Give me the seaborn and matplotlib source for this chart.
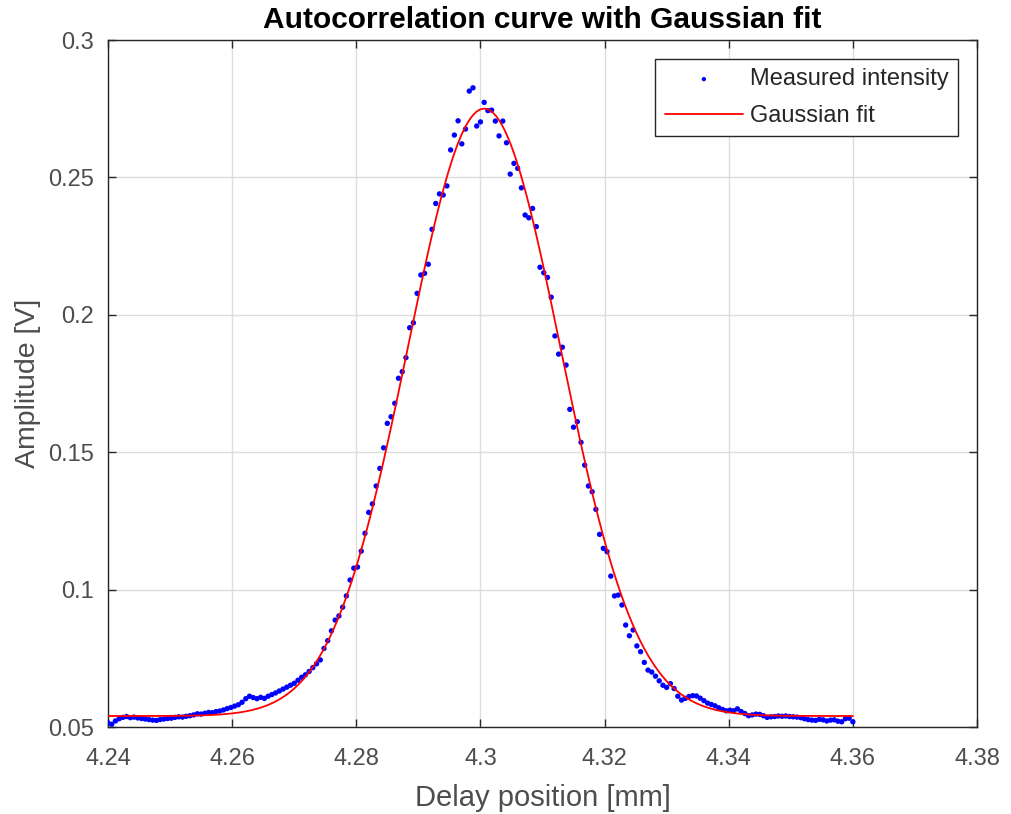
import numpy as np
import pandas as pd
import matplotlib
matplotlib.use("Agg")
import matplotlib.pyplot as plt
import seaborn as sns

# ---- data ----
delay_start = 4.24
delay_stop = 4.36
measured_amplitude = [
    0.0515, 0.0510, 0.0522, 0.0530, 0.0535, 0.0538, 0.0534, 0.0536, 0.0533, 0.0531,
    0.0529, 0.0527, 0.0525, 0.0524, 0.0527, 0.0529, 0.0531, 0.0532, 0.0535, 0.0537,
    0.0536, 0.0539, 0.0541, 0.0544, 0.0548, 0.0547, 0.0550, 0.0553, 0.0552, 0.0556,
    0.0558, 0.0562, 0.0567, 0.0571, 0.0576, 0.0581, 0.0590, 0.0603, 0.0612, 0.0607,
    0.0603, 0.0608, 0.0604, 0.0612, 0.0618, 0.0624, 0.0631, 0.0638, 0.0645, 0.0652,
    0.0659, 0.0670, 0.0681, 0.0690, 0.0702, 0.0716, 0.0730,
    0.0744, 0.0786, 0.0814, 0.0850, 0.0889, 0.0904, 0.0936, 0.0977, 0.1035, 0.1078,
    0.1082, 0.1140, 0.1205, 0.1281, 0.1312, 0.1377, 0.1441, 0.1516, 0.1605, 0.1629,
    0.1678,
    0.1769, 0.1793, 0.1844, 0.1953, 0.1971, 0.2078, 0.2145, 0.2151, 0.2184, 0.2311,
    0.2405, 0.2440, 0.2436, 0.2469, 0.2600, 0.2654, 0.2706, 0.2622, 0.2676, 0.2814,
    0.2826, 0.2687, 0.2702, 0.2773, 0.2743, 0.2745, 0.2705, 0.2651, 0.2705, 0.2626,
    0.2512, 0.2551, 0.2533, 0.2462, 0.2363, 0.2353, 0.2387, 0.2321, 0.2173, 0.2153,
    0.2136, 0.2064, 0.1923, 0.1857, 0.1882, 0.1817,
    0.1656, 0.1591, 0.1611, 0.1536, 0.1453, 0.1377, 0.1356, 0.1292, 0.1201, 0.1150,
    0.1138, 0.1049, 0.0977, 0.0980, 0.0944, 0.0871, 0.0832, 0.0853, 0.0795, 0.0774,
    0.0735, 0.0707,
    0.0700, 0.0685, 0.0668, 0.0652, 0.0644, 0.0658, 0.0640, 0.0612, 0.0598, 0.0604,
    0.0611, 0.0614, 0.0613, 0.0605, 0.0596, 0.0587, 0.0582, 0.0577, 0.0570, 0.0564,
    0.0559, 0.0561, 0.0559, 0.0566, 0.0556, 0.0549, 0.0541, 0.0544, 0.0547, 0.0546,
    0.0541, 0.0535, 0.0537, 0.0538, 0.0540, 0.0539, 0.0540, 0.0538, 0.0537, 0.0536,
    0.0534, 0.0530, 0.0527, 0.0525, 0.0524, 0.0528, 0.0526, 0.0522, 0.0525, 0.0526,
    0.0521, 0.0519, 0.0530, 0.0532, 0.0519,
]
# Gaussian fit parameters (amplitude, centre, sigma, offset)
fit_amplitude = 0.221
fit_center = 4.3006
fit_sigma = 0.0123
fit_offset = 0.054

x_ticks = [4.24, 4.26, 4.28, 4.30, 4.32, 4.34, 4.36, 4.38]
x_ticklabels = ["4.24", "4.26", "4.28", "4.3", "4.32", "4.34", "4.36", "4.38"]
y_ticks = [0.05, 0.10, 0.15, 0.20, 0.25, 0.30]
y_ticklabels = ["0.05", "0.1", "0.15", "0.2", "0.25", "0.3"]

delay = np.linspace(delay_start, delay_stop, len(measured_amplitude))
meas = pd.DataFrame({"delay": delay, "amp": measured_amplitude})
xf = np.linspace(delay_start, delay_stop, 600)
fit = pd.DataFrame({
    "delay": xf,
    "amp": fit_offset + fit_amplitude * np.exp(-0.5 * ((xf - fit_center) / fit_sigma) ** 2),
})

# ---- style ----
sns.set_theme(style="whitegrid")
plt.rcParams["font.family"] = ["Liberation Sans", "DejaVu Sans"]
dark = "#262626"
label_gray = "#4d4d4d"

fig = plt.figure(figsize=(10.12, 8.14), dpi=100)
ax = fig.add_axes([108 / 1012, 1 - 727 / 814, (977 - 108) / 1012, (727 - 40) / 814])

sns.scatterplot(data=meas, x="delay", y="amp", ax=ax, color="#0000ff", s=15,
                edgecolor="none", label="Measured intensity", zorder=3)
sns.lineplot(data=fit, x="delay", y="amp", ax=ax, color="#ff0000", linewidth=1.3,
             label="Gaussian fit", zorder=4)

ax.set_xlim(4.24, 4.38)
ax.set_ylim(0.05, 0.3)
ax.set_xticks(x_ticks)
ax.set_xticklabels(x_ticklabels)
ax.set_yticks(y_ticks)
ax.set_yticklabels(y_ticklabels)
ax.set_facecolor("white")
ax.grid(True, color="#dcdcdc", linewidth=1.0)
for s in ax.spines.values():
    s.set_color(dark)
    s.set_linewidth(1.0)
ax.tick_params(axis="both", which="both", direction="in", length=6, width=1.0,
               colors=dark, labelsize=17, top=True, right=True, bottom=True, left=True,
               labelcolor=label_gray)
ax.tick_params(axis="x", pad=15)
ax.tick_params(axis="y", pad=10)

ax.set_xlabel("Delay position [mm]", fontsize=21, color=label_gray, labelpad=10)
ax.set_ylabel("Amplitude [V]", fontsize=20.5, color=label_gray, labelpad=5)
ax.set_title("Autocorrelation curve with Gaussian fit", fontsize=21.5, fontweight="bold",
             color="black", pad=9)

leg = ax.legend(loc="upper right", fontsize=17, frameon=True, fancybox=False,
                edgecolor=dark, framealpha=1, handlelength=3.3, handletextpad=0.3,
                borderpad=0.4, labelspacing=0.62, borderaxespad=0.8, markerscale=0.8)
leg.get_frame().set_linewidth(1.0)

fig.savefig("out.png", dpi=100, facecolor="white")
